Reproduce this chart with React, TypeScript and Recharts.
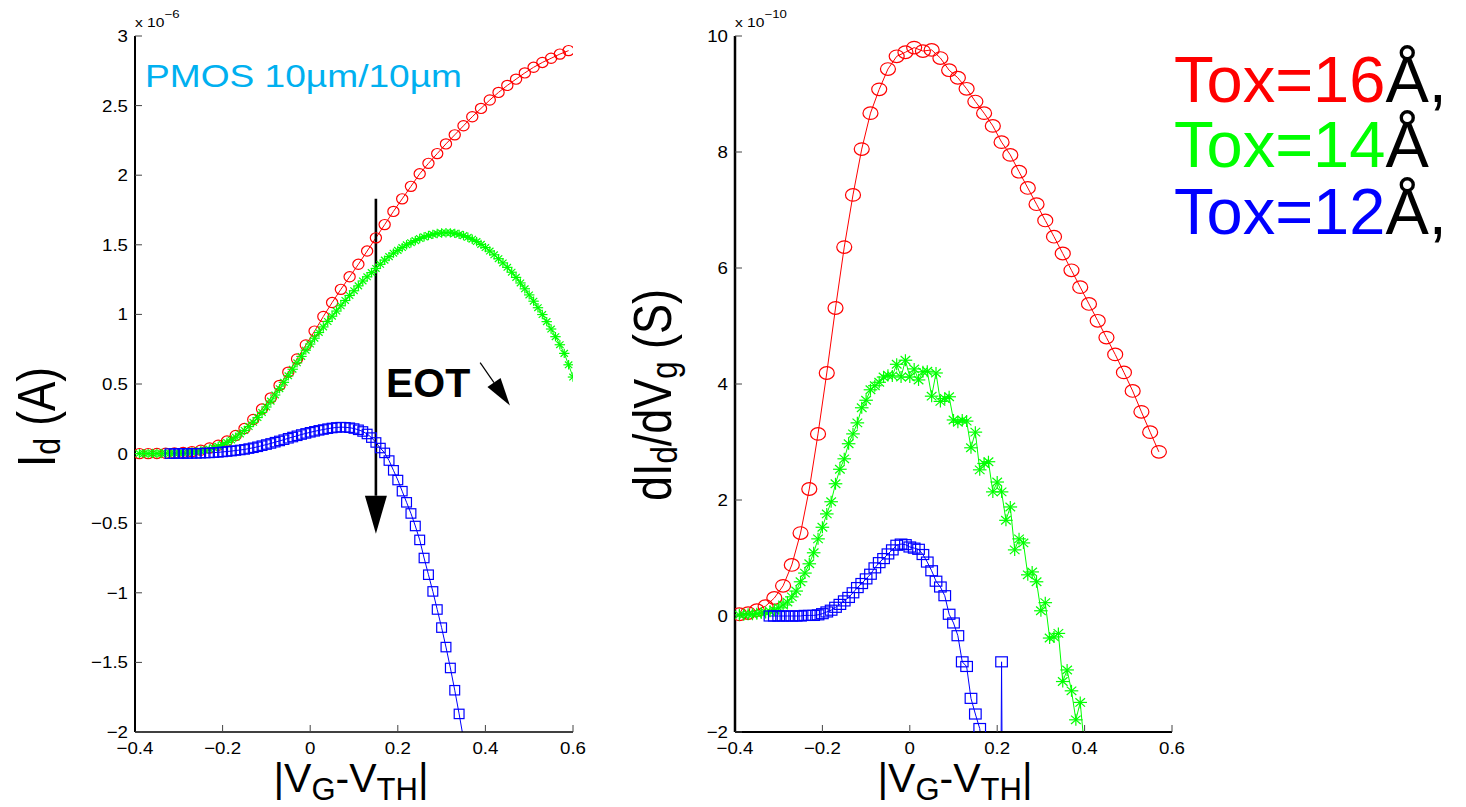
import React from 'react';
import { LineChart, Line, XAxis, YAxis, ReferenceLine } from 'recharts';

const FONT = '"Liberation Sans", Arial, Helvetica, sans-serif';
const RED = '#ff0000';
const GREEN = '#00ff00';
const BLUE = '#0000ff';

// axis ticks
const vgTicks = [-0.4, -0.2, 0, 0.2, 0.4, 0.6];
const idTicks = [-2, -1.5, -1, -0.5, 0, 0.5, 1, 1.5, 2, 2.5, 3];
const gmTicks = [-2, 0, 2, 4, 6, 8, 10];

// drain current Id (x 1e-6 A); |VG-VTH| grid start / step per series
const idRed = [
  0.0, 0.0, 0.001, 0.002, 0.004, 0.008, 0.014, 0.024, 0.04, 0.06,
  0.09, 0.13, 0.18, 0.245, 0.32, 0.4, 0.49, 0.585, 0.68, 0.78,
  0.88, 0.985, 1.085, 1.18, 1.27, 1.36, 1.455, 1.55, 1.645, 1.74,
  1.83, 1.92, 2.01, 2.085, 2.155, 2.225, 2.29, 2.355, 2.42, 2.48,
  2.54, 2.595, 2.645, 2.69, 2.735, 2.775, 2.81, 2.84, 2.87, 2.895,
];
const idGreen = [
  0.0, 0.0, 0.0, 0.001, 0.001, 0.001, 0.002, 0.002, 0.003, 0.004,
  0.006, 0.008, 0.011, 0.014, 0.019, 0.025, 0.032, 0.041, 0.052, 0.065,
  0.08, 0.098, 0.118, 0.141, 0.166, 0.194, 0.225, 0.259, 0.296, 0.335,
  0.377, 0.421, 0.466, 0.512, 0.559, 0.606, 0.652, 0.698, 0.743, 0.787,
  0.829, 0.87, 0.91, 0.949, 0.987, 1.024, 1.062, 1.1, 1.136, 1.17,
  1.205, 1.24, 1.27, 1.3, 1.33, 1.36, 1.39, 1.415, 1.44, 1.46,
  1.48, 1.5, 1.515, 1.53, 1.545, 1.557, 1.567, 1.575, 1.581, 1.585,
  1.587, 1.586, 1.582, 1.575, 1.566, 1.554, 1.54, 1.523, 1.503, 1.48,
  1.455, 1.428, 1.4, 1.37, 1.338, 1.303, 1.266, 1.226, 1.184, 1.14,
  1.095, 1.048, 0.999, 0.948, 0.895, 0.84, 0.782, 0.72, 0.638, 0.55,
];
const idBlue = [
  0.0, 0.0, 0.001, 0.001, 0.001, 0.002, 0.002, 0.003, 0.004, 0.005,
  0.007, 0.009, 0.012, 0.015, 0.018, 0.022, 0.026, 0.03, 0.036, 0.042,
  0.049, 0.057, 0.065, 0.073, 0.082, 0.091, 0.1, 0.11, 0.119, 0.128,
  0.137, 0.145, 0.153, 0.16, 0.167, 0.173, 0.179, 0.184, 0.188, 0.19,
  0.189, 0.186, 0.18, 0.171, 0.159, 0.141, 0.115, 0.08, 0.04, 0.005,
  -0.05, -0.12, -0.19, -0.27, -0.35, -0.43, -0.52, -0.62, -0.75, -0.87,
  -0.99, -1.12, -1.25, -1.39, -1.54, -1.7, -1.87, -2.05,
];

// transconductance dId/dVg (x 1e-10 S)
const gmRed = [
  0.03, 0.05, 0.1, 0.17, 0.31, 0.52, 0.88, 1.43, 2.19, 3.14,
  4.19, 5.31, 6.36, 7.26, 8.05, 8.67, 9.08, 9.43, 9.65, 9.72,
  9.8, 9.74, 9.76, 9.62, 9.41, 9.28, 9.09, 8.87, 8.67, 8.45,
  8.17, 7.95, 7.66, 7.38, 7.1, 6.82, 6.54, 6.25, 5.96, 5.67,
  5.38, 5.09, 4.8, 4.51, 4.2, 3.88, 3.52, 3.17, 2.83,
];
const gmGreen = [
  0.02, 0.02, 0.03, 0.03, 0.04, 0.05, 0.06, 0.08, 0.1, 0.14,
  0.19, 0.24, 0.33, 0.43, 0.59, 0.74, 0.9, 1.09, 1.33, 1.53,
  1.76, 1.97, 2.28, 2.53, 2.71, 2.97, 3.14, 3.33, 3.59, 3.72,
  3.9, 3.97, 4.03, 4.12, 4.15, 4.14, 4.34, 4.12, 4.41, 4.12,
  4.26, 4.07, 4.21, 4.22, 3.79, 4.19, 3.7, 3.75, 3.78, 3.38,
  3.34, 3.38, 3.36, 2.9, 3.17, 2.52, 2.63, 2.66, 2.14, 2.31,
  2.14, 1.65, 1.88, 1.14, 1.33, 1.26, 0.71, 0.76, 0.59, 0.09,
  0.23, -0.38, -0.36, -0.3, -1.13, -0.93, -1.29, -1.79, -1.49, -2.3,
];
const gmBlue = [
  0.0, 0.0, 0.0, 0.0, 0.0, 0.0, 0.0, 0.0, 0.01, 0.01,
  0.01, 0.02, 0.04, 0.07, 0.1, 0.15, 0.2, 0.26, 0.32, 0.4,
  0.49, 0.56, 0.64, 0.72, 0.83, 0.92, 0.99, 1.07, 1.14, 1.22,
  1.24, 1.23, 1.19, 1.17, 1.15, 1.06, 0.93, 0.78, 0.6, 0.5,
  0.35, 0.03, -0.12, -0.34, -0.79, -0.87, -1.42, -1.69, -1.94, -2.6,
  -3.1, -3.7, -14.0, -0.79, -14.0,
];

// EOT arrows (data coordinates of the left panel)
const eotArrow = { x: 0.15, yTop: 1.83, yTip: -0.575 };
const eotSmallArrow = { from: [0.388, 0.654], to: [0.456, 0.345] };

type Pt = { x: number; y: number };
const series = (start: number, step: number, ys: number[]): Pt[] =>
  ys.map((y, i) => ({ x: Math.round((start + i * step) * 1000) / 1000, y }));

const idRedPts = series(-0.39, 0.02, idRed);
const idGreenPts = series(-0.39, 0.01, idGreen);
const idBluePts = series(-0.32, 0.01, idBlue);
const gmRedPts = series(-0.39, 0.02, gmRed);
const gmGreenPts = series(-0.39, 0.01, gmGreen);
const gmBluePts = series(-0.32, 0.01, gmBlue);

const fmtTick = (v: number) => (v < 0 ? '\u2212' + String(Math.abs(v)) : String(v));

const TICK_FS = 17;

const BottomTick = (p: any) => (
  <text
    transform={`translate(${p.x},${p.y}) scale(1.1,1)`}
    textAnchor="middle"
    fontFamily={FONT}
    fontSize={TICK_FS}
    fill="#000"
  >
    {fmtTick(p.payload.value)}
  </text>
);

const LeftTick = (p: any) => (
  <text
    transform={`translate(${p.x},${p.y + 6}) scale(1.1,1)`}
    textAnchor="end"
    fontFamily={FONT}
    fontSize={TICK_FS}
    fill="#000"
  >
    {fmtTick(p.payload.value)}
  </text>
);

const NoTick = () => <g />;

type Marker = 'circle' | 'star' | 'square';
const makeDot =
  (marker: Marker, color: string, rx: number, ry: number, lo: number, hi: number) =>
  (p: any) => {
    const { cx, cy, index, payload } = p;
    const key = `m-${marker}-${index}`;
    if (cx == null || cy == null || !payload || payload.y < lo || payload.y > hi) {
      return <g key={key} />;
    }
    if (marker === 'circle') {
      return <ellipse key={key} cx={cx} cy={cy} rx={rx} ry={ry} fill="none" stroke={color} strokeWidth={1.2} />;
    }
    if (marker === 'square') {
      return (
        <rect key={key} x={cx - rx} y={cy - ry} width={2 * rx} height={2 * ry} fill="none" stroke={color} strokeWidth={1.2} />
      );
    }
    const d = 0.707;
    return (
      <g key={key} stroke={color} strokeWidth={1.2}>
        <line x1={cx - rx} y1={cy} x2={cx + rx} y2={cy} />
        <line x1={cx} y1={cy - ry} x2={cx} y2={cy + ry} />
        <line x1={cx - rx * d} y1={cy - ry * d} x2={cx + rx * d} y2={cy + ry * d} />
        <line x1={cx - rx * d} y1={cy + ry * d} x2={cx + rx * d} y2={cy - ry * d} />
      </g>
    );
  };

const arrowShape = (headLen: number, headHalf: number, lineW: number) => (p: any) => {
  const { x1, y1, x2, y2 } = p;
  const dx = x2 - x1;
  const dy = y2 - y1;
  const len = Math.hypot(dx, dy) || 1;
  const ux = dx / len;
  const uy = dy / len;
  const bx = x2 - ux * headLen;
  const by = y2 - uy * headLen;
  const px = -uy * headHalf;
  const py = ux * headHalf;
  return (
    <g>
      <line x1={x1} y1={y1} x2={bx} y2={by} stroke="#000" strokeWidth={lineW} />
      <polygon points={`${x2},${y2} ${bx + px},${by + py} ${bx - px},${by - py}`} fill="#000" />
    </g>
  );
};

const frameAxes = (yDomain: [number, number], yTicks: number[], boxW: number) => [
  <XAxis
    key="xb"
    dataKey="x"
    type="number"
    domain={[-0.4, 0.6]}
    ticks={vgTicks}
    interval={0}
    allowDataOverflow
    height={30}
    tickSize={-7}
    tickMargin={29}
    axisLine={{ stroke: '#000', strokeWidth: boxW }}
    tickLine={{ stroke: '#444', strokeWidth: 1 }}
    tick={BottomTick}
  />,
  <XAxis
    key="xt"
    xAxisId="top"
    orientation="top"
    dataKey="x"
    type="number"
    domain={[-0.4, 0.6]}
    ticks={vgTicks}
    interval={0}
    allowDataOverflow
    height={0}
    tickSize={-7}
    axisLine={{ stroke: '#000', strokeWidth: boxW }}
    tickLine={{ stroke: '#444', strokeWidth: 1 }}
    tick={NoTick}
  />,
  <YAxis
    key="yl"
    type="number"
    domain={yDomain}
    ticks={yTicks}
    interval={0}
    allowDataOverflow
    width={60}
    tickSize={-7}
    tickMargin={14}
    axisLine={{ stroke: '#000', strokeWidth: boxW + 0.4 }}
    tickLine={{ stroke: '#444', strokeWidth: 1 }}
    tick={LeftTick}
  />,
  <YAxis
    key="yr"
    yAxisId="right"
    orientation="right"
    type="number"
    domain={yDomain}
    ticks={yTicks}
    interval={0}
    allowDataOverflow
    width={0}
    tickSize={-7}
    axisLine={{ stroke: '#000', strokeWidth: boxW }}
    tickLine={{ stroke: '#444', strokeWidth: 1 }}
    tick={NoTick}
  />,
];

function IdPanel() {
  return (
    <LineChart width={600} height={807} margin={{ top: 36, right: 27, bottom: 45, left: 75 }}>
      {frameAxes([-2, 3], idTicks, 1.6)}
      <Line data={idRedPts} dataKey="y" type="linear" stroke={RED} strokeWidth={1}
        dot={makeDot('circle', RED, 5.6, 5.1, -2, 3)} activeDot={false} isAnimationActive={false} />
      <Line data={idGreenPts} dataKey="y" type="linear" stroke={GREEN} strokeWidth={1}
        dot={makeDot('star', GREEN, 5.2, 4.7, -2, 3)} activeDot={false} isAnimationActive={false} />
      <Line data={idBluePts} dataKey="y" type="linear" stroke={BLUE} strokeWidth={1}
        dot={makeDot('square', BLUE, 4.9, 4.7, -2, 3)} activeDot={false} isAnimationActive={false} />
      <ReferenceLine
        segment={[{ x: eotArrow.x, y: eotArrow.yTop }, { x: eotArrow.x, y: eotArrow.yTip }]}
        ifOverflow="visible"
        shape={arrowShape(38, 11, 2.6)}
      />
      <ReferenceLine
        segment={[
          { x: eotSmallArrow.from[0], y: eotSmallArrow.from[1] },
          { x: eotSmallArrow.to[0], y: eotSmallArrow.to[1] },
        ]}
        ifOverflow="visible"
        shape={arrowShape(28, 8, 1.2)}
      />
    </LineChart>
  );
}

function GmPanel() {
  return (
    <LineChart width={600} height={807} margin={{ top: 36, right: 38, bottom: 45, left: 65 }}>
      {frameAxes([-2, 10], gmTicks, 2.1)}
      <Line data={gmRedPts} dataKey="y" type="linear" stroke={RED} strokeWidth={1}
        dot={makeDot('circle', RED, 7.5, 6.3, -2, 10)} activeDot={false} isAnimationActive={false} />
      <Line data={gmGreenPts} dataKey="y" type="linear" stroke={GREEN} strokeWidth={1}
        dot={makeDot('star', GREEN, 6.8, 6, -2, 10)} activeDot={false} isAnimationActive={false} />
      <Line data={gmBluePts} dataKey="y" type="linear" stroke={BLUE} strokeWidth={1}
        dot={makeDot('square', BLUE, 5.8, 5, -2, 10)} activeDot={false} isAnimationActive={false} />
    </LineChart>
  );
}

export default function App() {
  return (
    <div style={{ position: 'absolute', left: 0, top: 0, width: 1466, height: 807, background: '#fff', overflow: 'hidden' }}>
      <div style={{ position: 'absolute', left: 0, top: 0 }}>
        <IdPanel />
      </div>
      <div style={{ position: 'absolute', left: 610, top: 0 }}>
        <GmPanel />
      </div>
      <svg
        width={1466}
        height={807}
        style={{ position: 'absolute', left: 0, top: 0, pointerEvents: 'none' }}
        fontFamily={FONT}
      >
        {/* axis exponents */}
        <text transform="translate(135,27) scale(1.2,1)" fontSize={13} fill="#000">
          x 10<tspan dy={-9} fontSize={11}>{'\u22126'}</tspan>
        </text>
        <text transform="translate(735,27) scale(1.2,1)" fontSize={13} fill="#000">
          x 10<tspan dy={-9} fontSize={11}>{'\u221210'}</tspan>
        </text>

        {/* device label */}
        <text x={145} y={87} fontSize={30.5} fill="#00b0f0" textLength={317} lengthAdjust="spacingAndGlyphs">
          PMOS 10µm/10µm
        </text>

        {/* EOT annotation */}
        <text x={386} y={397} fontSize={41} fontWeight="bold" fill="#000">EOT</text>

        {/* y axis titles */}
        <text transform="translate(55,417) rotate(-90) scale(1,1.2)" textAnchor="middle" fontSize={44} fill="#000">
          I<tspan fontSize={30} dy={4}>d</tspan><tspan dy={-4}>{' (A)'}</tspan>
        </text>
        <text transform="translate(671,395) rotate(-90) scale(1,1.2)" textAnchor="middle" fontSize={45} fill="#000">
          dI<tspan fontSize={31} dy={5}>d</tspan><tspan dy={-5}>/dV</tspan>
          <tspan fontSize={31} dy={5}>g</tspan><tspan dy={-5}>{' (S)'}</tspan>
        </text>

        {/* x axis titles */}
        <text x={351} y={792} textAnchor="middle" fontSize={41} fill="#000">
          |V<tspan fontSize={31} dy={8}>G</tspan><tspan dy={-8}>-V</tspan>
          <tspan fontSize={31} dy={8}>TH</tspan><tspan dy={-8}>|</tspan>
        </text>
        <text x={955} y={792} textAnchor="middle" fontSize={41} fill="#000">
          |V<tspan fontSize={31} dy={8}>G</tspan><tspan dy={-8}>-V</tspan>
          <tspan fontSize={31} dy={8}>TH</tspan><tspan dy={-8}>|</tspan>
        </text>

        {/* oxide thickness legend */}
        <text x={1174} y={102} fontSize={65}>
          <tspan fill={RED}>Tox=16</tspan><tspan fill="#000">Å,</tspan>
        </text>
        <text x={1174} y={167} fontSize={65}>
          <tspan fill={GREEN}>Tox=14</tspan><tspan fill="#000">Å</tspan>
        </text>
        <text x={1174} y={234} fontSize={65}>
          <tspan fill={BLUE}>Tox=12</tspan><tspan fill="#000">Å,</tspan>
        </text>
      </svg>
    </div>
  );
}
